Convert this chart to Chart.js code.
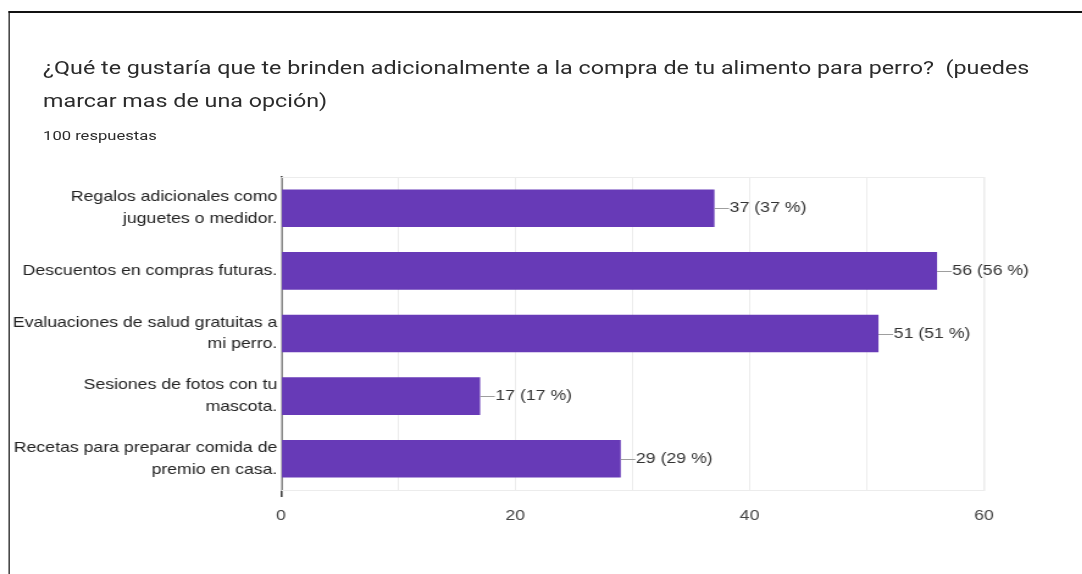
<!DOCTYPE html>
<html>
<head>
<meta charset="utf-8">
<script src="https://cdn.jsdelivr.net/npm/chart.js@4/dist/chart.umd.min.js"></script>
<style>
  body { margin: 0; background: #fff; width: 1082px; height: 574px; overflow: hidden; position: relative; }
  /* the reference screenshot is stretched sideways, so the whole stage is too */
  #stage { position: absolute; left: 0; top: 0; width: 887px; height: 574px;
           transform: scaleX(1.22); transform-origin: 0 0; }
  #frame { position: absolute; left: 6.5px; top: 11px; width: 900px; height: 570px;
           border-top: 2px solid #111; border-left: 1.6px solid #111; }
  #title { position: absolute; left: 35.3px; top: 51px; font-family: Roboto, sans-serif;
           font-size: 19.1px; line-height: 33px; color: #2b2b2b; white-space: nowrap; }
  #sub { position: absolute; left: 35.3px; top: 127px; font-family: Roboto, sans-serif;
         font-size: 13.6px; color: #2b2b2b; }
  #wrap { position: absolute; left: 0; top: 0; width: 887px; height: 574px; }
</style>
</head>
<body>
<div id="stage">
<div id="frame"></div>
<div id="title">¿Qué te gustaría que te brinden adicionalmente a la compra de tu alimento para perro?&nbsp; (puedes<br>marcar mas de una opción)</div>
<div id="sub">100 respuestas</div>
<div id="wrap"><canvas id="chart" width="887" height="574"></canvas></div>
</div>
<script>
// ==========================================
// =  DATA
// ==========================================
const categories = [
  ["Regalos adicionales como", "juguetes o medidor."],
  ["Descuentos en compras futuras."],
  ["Evaluaciones de salud gratuitas a", "mi perro."],
  ["Sesiones de fotos con tu", "mascota."],
  ["Recetas para preparar comida de", "premio en casa."],
];
const responses = [37, 56, 51, 17, 29];
const totalResponses = 100;
const tickValues = [0, 20, 40, 60];

const FONT = "'Liberation Sans', Arial, sans-serif";

// frame around plot area
const plotFrame = {
  id: "plotFrame",
  beforeDatasetsDraw(chart) {
    const { ctx, chartArea: a } = chart;
    ctx.save();
    ctx.strokeStyle = "#ececec";
    ctx.lineWidth = 1;
    ctx.strokeRect(a.left + 0.5, a.top + 0.5, a.right - a.left, a.bottom - a.top);
    ctx.restore();
  },
};

// value labels with little leader line
const valueLabels = {
  id: "valueLabels",
  afterDatasetsDraw(chart) {
    const { ctx } = chart;
    const meta = chart.getDatasetMeta(0);
    ctx.save();
    ctx.font = "14.5px " + FONT;
    ctx.textBaseline = "middle";
    ctx.textAlign = "left";
    meta.data.forEach((bar, i) => {
      const v = responses[i];
      ctx.strokeStyle = "#9e9e9e";
      ctx.lineWidth = 1;
      ctx.beginPath();
      ctx.moveTo(bar.x, Math.round(bar.y) + 0.5);
      ctx.lineTo(bar.x + 12, Math.round(bar.y) + 0.5);
      ctx.stroke();
      ctx.fillStyle = "#333";
      ctx.fillText(v + " (" + Math.round((v / totalResponses) * 100) + " %)", bar.x + 12.5, bar.y);
    });
    ctx.restore();
  },
};

new Chart(document.getElementById("chart"), {
  type: "bar",
  data: {
    labels: categories,
    datasets: [
      {
        data: responses,
        backgroundColor: "#673ab7",
        borderWidth: 0,
        barPercentage: 0.6,
        categoryPercentage: 1,
      },
    ],
  },
  options: {
    indexAxis: "y",
    responsive: false,
    animation: false,
    layout: { padding: { top: 177, right: 80.5, left: 0, bottom: 0 } },
    plugins: { legend: { display: false }, tooltip: { enabled: false } },
    scales: {
      x: {
        min: 0,
        max: 60,
        ticks: {
          stepSize: 10,
          autoSkip: false,
          maxRotation: 0,
          padding: 10,
          color: "#444",
          font: { family: FONT, size: 14.5 },
          callback: (v) => (tickValues.includes(v) ? v : ""),
        },
        grid: {
          color: (c) => (c.tick && c.tick.value === 0 ? "#444" : "#ececec"),
          lineWidth: (c) => (c.tick && c.tick.value === 0 ? 1.6 : 1),
          tickLength: 7,
          tickColor: (c) => (c.tick && c.tick.value === 0 ? "#444" : "rgba(0,0,0,0)"),
        },
        border: { display: false },
        afterFit: (s) => { s.height = 84; },
      },
      y: {
        ticks: {
          color: "#222",
          padding: 3,
          font: { family: FONT, size: 14.5, lineHeight: 1.5 },
        },
        grid: { display: false, drawTicks: false },
        border: { display: true, color: "#444", width: 1.6 },
        afterFit: (s) => { s.width = 230.3; },
      },
    },
  },
  plugins: [plotFrame, valueLabels],
});
</script>
</body>
</html>
